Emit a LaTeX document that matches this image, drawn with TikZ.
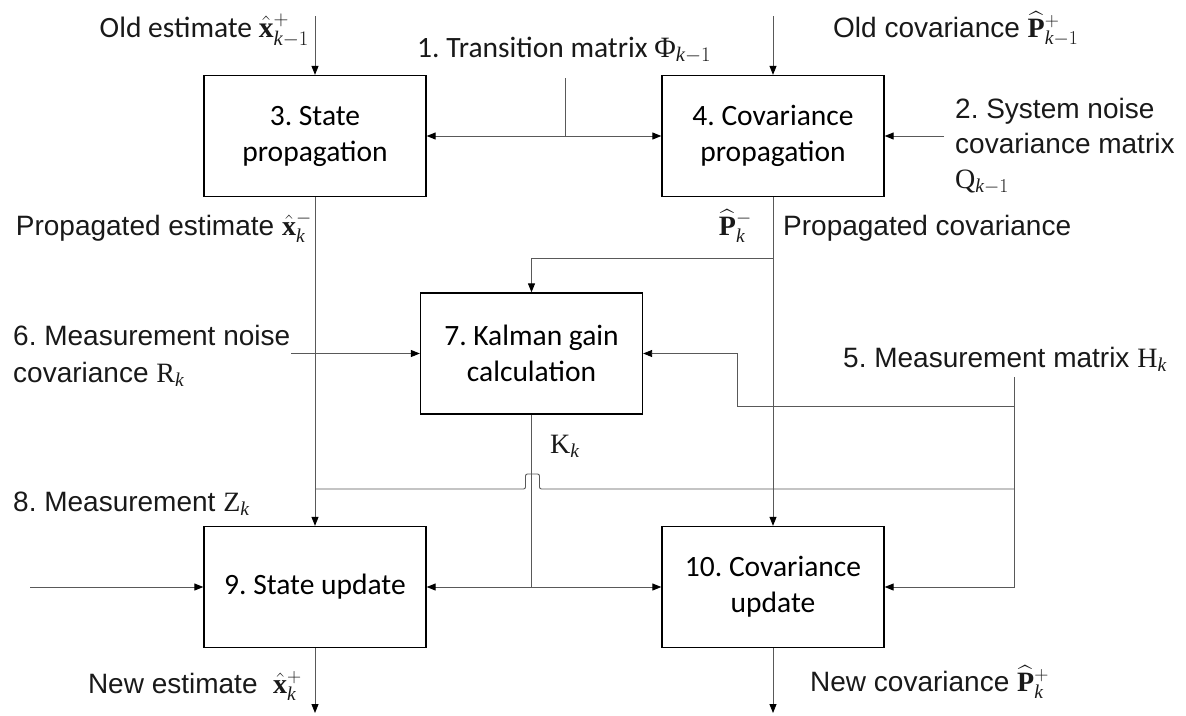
\RequirePackage{fix-cm}
\documentclass[tikz,border=0pt]{standalone}
\usepackage{amsmath}
\usepackage{fontspec}
\setmainfont{Liberation Sans}
\setmathrm{Liberation Serif}
\newfontfamily\boxfont{Carlito}
\newfontfamily\serf{Liberation Serif}
\newcommand{\kk}{\mathit{k}}
\usetikzlibrary{arrows.meta}
\frenchspacing
\tikzset{
  blk/.style={draw=black, line width=1.3pt, minimum width=222pt, minimum height=121pt,
    inner sep=2pt, align=center, font=\boxfont\fontsize{29.5}{36}\selectfont},
  con/.style={draw=black!65, line width=0.9pt},
  arr/.style={con, -{Triangle[length=9pt,width=7pt,color=black]}},
  lbl/.style={font=\fontsize{28}{34}\selectfont, inner sep=0pt, text=black!90},
  clbl/.style={font=\boxfont\fontsize{29.5}{34}\selectfont, inner sep=0pt, text=black!90},
}
\begin{document}
\begin{tikzpicture}[x=1pt,y=-1pt]
\useasboundingbox (0,0) rectangle (1186,715);
% boxes
\node[blk] (b3) at (315,136) {3. State\\propagation};
\node[blk] (b4) at (773,136) {4. Covariance\\propagation};
\node[blk] (b7) at (531.5,353.5) {7. Kalman gain\\calculation};
\node[blk] (b9) at (315,587) {9. State update};
\node[blk] (b10) at (773,587) {10. Covariance\\update};
% coordinates
\coordinate (oe) at (315,16);
\coordinate (oc) at (773,16);
\coordinate (tm) at (565,78);
\coordinate (tj) at (565,136);
\coordinate (sn) at (944,136);
\coordinate (pj) at (773,258);
\coordinate (mn) at (291,353.5);
\coordinate (ht) at (1014,377);
\coordinate (hk) at (1014,406);
\coordinate (hc) at (737,406);
\coordinate (hm) at (1014,489);
\coordinate (bp1) at (539.5,489);
\coordinate (bp2) at (539.5,474);
\coordinate (bp3) at (525.5,474);
\coordinate (bp4) at (525.5,489);
\coordinate (mj) at (315,489);
\coordinate (kj) at (531.5,587);
\coordinate (in) at (30,587);
\coordinate (o9) at (315,713);
\coordinate (o10) at (773,713);
% connectors
\draw[arr] (oe) -- (b3.north);
\draw[arr] (oc) -- (b4.north);
\draw[con] (tm) -- (tj);
\draw[arr] (tj) -- (b3.east);
\draw[arr] (tj) -- (b4.west);
\draw[arr] (sn) -- (b4.east);
\draw[arr] (b3.south) -- (b9.north);
\draw[arr] (b4.south) -- (b10.north);
\draw[arr] (pj) -| (b7.north);
\draw[arr] (mn) -- (b7.west);
\draw[arr] (ht) |- (b10.east);
\draw[arr] (hk) -- (hc) |- (b7.east);
\draw[con, rounded corners=2pt] (hm) -- (bp1) -- (bp2) -- (bp3) -- (bp4) -- (mj);
\draw[con] (b7.south) -- (kj);
\draw[arr] (kj) -- (b9.east);
\draw[arr] (kj) -- (b10.west);
\draw[arr] (in) -- (b9.west);
\draw[arr] (b9.south) -- (o9);
\draw[arr] (b10.south) -- (o10);
% labels
\node[clbl, anchor=base east] (loe) at (309,37) {Old estimate $\hat{\mathbf{x}}^{+}_{\kk-1}$};
\node[clbl, anchor=base west] (ltm) at (417,57) {1. Transition matrix $\text{\serf Φ}_{\kk-1}$};
\node[lbl, anchor=base west] (loc) at (833,37) {Old covariance $\widehat{\mathbf{P}}^{+}_{\kk-1}$};
\node[lbl, anchor=base west] (lsn1) at (955,118) {2. System noise};
\node[lbl, anchor=base west] (lsn2) at (955,153) {covariance matrix};
\node[lbl, anchor=base west] (lsn3) at (955,188) {$\mathrm{Q}_{\kk-1}$};
\node[lbl, anchor=base east] (lpe) at (312,235) {Propagated estimate $\hat{\mathbf{x}}^{-}_{\kk}$};
\node[lbl, anchor=base east] (lpp) at (752,235) {$\widehat{\mathbf{P}}^{-}_{\kk}$};
\node[lbl, anchor=base west] (lpc) at (783,235) {Propagated covariance};
\node[lbl, anchor=base west] (lmn1) at (13,345) {6. Measurement noise};
\node[lbl, anchor=base west] (lmn2) at (13,382) {covariance $\mathrm{R}_{\kk}$};
\node[lbl, anchor=base west] (lmm) at (843,367) {5. Measurement matrix $\mathrm{H}_{\kk}$};
\node[lbl, anchor=base west] (lk) at (550,453) {$\mathrm{K}_{\kk}$};
\node[lbl, anchor=base west] (lz) at (13,511) {8. Measurement $\mathrm{Z}_{\kk}$};
\node[lbl, anchor=base east] (lne) at (302,693) {New estimate\ \ $\hat{\mathbf{x}}^{+}_{\kk}$};
\node[lbl, anchor=base west] (lnc) at (810,691) {New covariance $\widehat{\mathbf{P}}^{+}_{\kk}$};
\end{tikzpicture}
\end{document}
